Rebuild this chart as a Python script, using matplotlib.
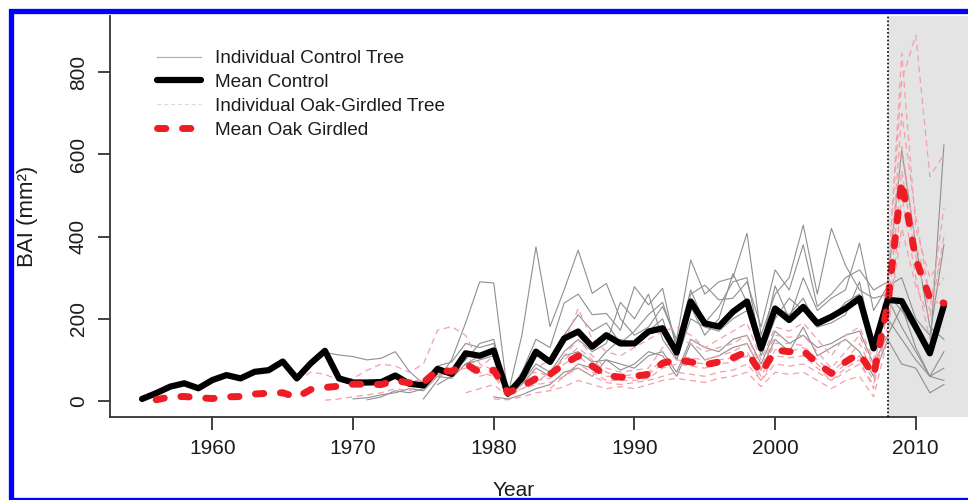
import numpy as np
import matplotlib
matplotlib.use("Agg")
import matplotlib.pyplot as plt
from matplotlib.lines import Line2D
from matplotlib.patches import Rectangle

plt.rcParams['font.family'] = ['Liberation Sans', 'DejaVu Sans']

# ---- data: basal area increment (mm^2) by year ----
mean_control_start = 1955
mean_control = [5, 19, 35, 43, 31,
                51, 63, 55, 71, 75, 96, 55, 92, 122, 55,
                45, 45, 46, 62, 42, 38, 78, 66, 116, 110,
                123, 18, 55, 120, 95, 152, 169, 132, 160, 140,
                140, 169, 177, 118, 242, 189, 181, 217, 242, 128,
                225, 197, 229, 189, 205, 225, 250, 128, 246, 243,
                180, 116, 233]

mean_girdled_start = 1956
mean_girdled = [3, 10, 11, 8,
                6, 10, 11, 17, 19, 20, 9, 28, 33, 36,
                41, 41, 40, 50, 44, 45, 75, 72, 90, 70,
                75, 20, 35, 55, 65, 90, 110, 85, 62, 58,
                60, 65, 92, 100, 95, 88, 95, 105, 120, 67,
                124, 120, 122, 92, 67, 95, 116, 62, 235, 535,
                345, 250, 238]

# individual control trees (first year, values)
ctrl_1_start = 1968
ctrl_1 = [118, 112,
          108, 100, 104, 120, 72, 42, 85, 95, 140, 130,
          140, 20, 70, 150, 130, 238, 260, 210, 213, 172,
          278, 234, 274, 124, 260, 282, 246, 250, 290, 180,
          319, 270, 380, 230, 260, 300, 319, 270, 290, 610,
          380, 180, 150]
ctrl_2_start = 1975
ctrl_2 = [5, 50, 100, 190, 290,
          287, 15, 160, 375, 181, 270, 367, 262, 286, 200,
          160, 180, 230, 150, 343, 260, 290, 300, 408, 160,
          260, 300, 428, 260, 420, 330, 270, 250, 260, 220,
          170, 120, 623]
ctrl_3_start = 1970
ctrl_3 = [5, 8, 15, 20, 30, 25, 60, 55, 90, 100,
          110, 10, 40, 80, 60, 110, 120, 95, 100, 90,
          80, 110, 120, 70, 150, 130, 120, 150, 160, 90,
          170, 140, 160, 130, 140, 160, 170, 90, 160, 230,
          130, 60, 80]
ctrl_4_start = 1971
ctrl_4 = [3, 10, 25, 20, 30, 65, 70, 100, 140,
          150, 20, 45, 90, 70, 120, 150, 120, 140, 240,
          200, 260, 150, 100, 230, 160, 200, 310, 240, 110,
          200, 250, 220, 180, 190, 210, 290, 130, 250, 180,
          120, 60, 120]
ctrl_5_start = 1980
ctrl_5 = [10, 5, 15, 30, 40, 70, 80, 60, 100, 75,
          90, 120, 110, 60, 140, 100, 110, 130, 140, 75,
          150, 120, 180, 110, 130, 150, 120, 60, 150, 90,
          80, 20, 40]
ctrl_6_start = 1976
ctrl_6 = [40, 60, 90, 110,
          120, 15, 50, 110, 100, 160, 210, 170, 190, 140,
          170, 210, 240, 140, 270, 190, 230, 290, 300, 130,
          280, 200, 300, 220, 250, 270, 384, 220, 280, 300,
          200, 160, 380]
ctrl_7_start = 1985
ctrl_7 = [60, 90, 80, 120, 150,
          140, 170, 200, 100, 200, 180, 170, 200, 220, 120,
          230, 210, 250, 180, 200, 240, 260, 140, 200, 150,
          100, 60, 50]

# individual oak-girdled trees (first year, values)
gird_1_start = 1966
gird_1 = [50, 70, 65, 50,
          55, 75, 90, 85, 70, 90, 172, 181, 160, 90,
          75, 25, 50, 80, 100, 140, 225, 150, 120, 110,
          130, 150, 170, 180, 160, 130, 150, 170, 190, 100,
          180, 170, 190, 150, 110, 160, 180, 100, 300, 780,
          890, 546, 600]
gird_2_start = 1968
gird_2 = [2, 5,
          10, 15, 20, 30, 25, 40, 80, 60, 90, 70,
          60, 15, 30, 40, 45, 60, 80, 60, 45, 40,
          45, 50, 60, 70, 65, 60, 70, 75, 90, 50,
          90, 85, 90, 70, 50, 70, 90, 40, 180, 420,
          280, 200, 400]
gird_3_start = 1970
gird_3 = [40, 45, 40, 55, 50, 50, 60, 75, 110, 80,
          110, 30, 60, 70, 60, 110, 150, 110, 80, 70,
          75, 80, 130, 150, 140, 120, 130, 140, 160, 80,
          160, 155, 160, 120, 80, 120, 160, 80, 260, 620,
          380, 260, 220]
gird_4_start = 1975
gird_4 = [30, 60, 70, 80, 60,
          70, 15, 40, 50, 55, 90, 110, 80, 60, 60,
          55, 65, 90, 100, 95, 90, 100, 105, 120, 60,
          125, 120, 130, 90, 60, 90, 110, 50, 240, 700,
          450, 250, 300]
gird_5_start = 1980
gird_5 = [5, 3, 10, 20, 25, 35, 50, 40, 30, 35,
          30, 40, 50, 55, 50, 45, 55, 60, 70, 35,
          70, 65, 70, 50, 30, 50, 60, 10, 150, 500,
          300, 150, 180]
gird_6_start = 1978
gird_6 = [20, 30,
          40, 10, 30, 45, 70, 100, 130, 100, 70, 60,
          65, 70, 100, 110, 105, 100, 110, 120, 140, 75,
          140, 140, 135, 100, 70, 100, 140, 70, 280, 846,
          420, 300, 350]
gird_7_start = 1984
gird_7 = [30, 60, 90, 70, 50, 50,
          50, 55, 80, 90, 85, 80, 90, 95, 110, 50,
          110, 105, 110, 80, 50, 80, 100, 30, 220, 560,
          350, 220, 470]

girdling_year = 2008
x_ticks = [1960, 1970, 1980, 1990, 2000, 2010]
y_ticks = [0, 200, 400, 600, 800]

control_trees = [(ctrl_1_start, ctrl_1), (ctrl_2_start, ctrl_2),
                 (ctrl_3_start, ctrl_3), (ctrl_4_start, ctrl_4),
                 (ctrl_5_start, ctrl_5), (ctrl_6_start, ctrl_6),
                 (ctrl_7_start, ctrl_7)]
girdled_trees = [(gird_1_start, gird_1), (gird_2_start, gird_2),
                 (gird_3_start, gird_3), (gird_4_start, gird_4),
                 (gird_5_start, gird_5), (gird_6_start, gird_6),
                 (gird_7_start, gird_7)]


def yrs(start, vals):
    return np.arange(start, start + len(vals))


# ---- figure ----
W, H = 968, 500
fig = plt.figure(figsize=(W / 100, H / 100), dpi=100)
ax = fig.add_axes([110 / W, 1 - 416.7 / H, (976 - 110) / W, (416.7 - 16) / H])
ax.set_xlim(1952.72, 2014.28)
ax.set_ylim(-38.2, 936.7)

txt = '#1c1c1c'
axcol = '#333333'

# post-girdling period
ax.axvspan(girdling_year, 2020, color='#e4e4e4', zorder=0, lw=0)
ax.axvline(girdling_year, color='black', lw=1.2, ls=(0, (1, 1.3)), zorder=5)

for start, vals in control_trees:
    ax.plot(yrs(start, vals), vals, color='#8f8f8f', lw=0.8, zorder=2)
for start, vals in girdled_trees:
    ax.plot(yrs(start, vals), vals, color='#f2a0aa', lw=0.9,
            dashes=(5.0, 3.5), zorder=2)

ax.plot(yrs(mean_control_start, mean_control), mean_control, color='black',
        lw=4.5, solid_joinstyle='round', solid_capstyle='round', zorder=4)
ax.plot(yrs(mean_girdled_start, mean_girdled), mean_girdled, color='#ee1c25',
        lw=5.0, dashes=(1.2, 2.4), dash_capstyle='round',
        dash_joinstyle='round', zorder=4)

# axes styling (R-like)
for s in ['top', 'right']:
    ax.spines[s].set_visible(False)
ax.spines['left'].set_color(axcol)
ax.spines['bottom'].set_color(axcol)
ax.spines['left'].set_linewidth(1.3)
ax.spines['bottom'].set_linewidth(1.3)
ax.spines['bottom'].set_bounds(1952.72, 2010)
ax.set_xticks(x_ticks)
ax.set_yticks(y_ticks)
ax.tick_params(axis='both', length=9, width=1.3, color=axcol,
               labelsize=15, labelcolor=txt, pad=7)
for lab in ax.get_yticklabels():
    lab.set_rotation(90)
    lab.set_va('center')
ax.patch.set_alpha(0)

fig.text(514 / W, 1 - 490 / H, 'Year', fontsize=15, color=txt,
         ha='center', va='center')
fig.text(28 / W, 1 - 216 / H, 'BAI (mm²)', rotation=90, fontsize=16,
         color=txt, ha='center', va='center')

handles = [
    Line2D([], [], color='#b0b0b0', lw=0.9),
    Line2D([], [], color='black', lw=4.5, solid_capstyle='round'),
    Line2D([], [], color='#d8d8d8', lw=0.9, dashes=(3, 2.5)),
    Line2D([], [], color='#ee1c25', lw=5.0, dashes=(1.2, 2.4),
           dash_capstyle='round'),
]
labels = ['Individual Control Tree', 'Mean Control',
          'Individual Oak-Girdled Tree', 'Mean Oak Girdled']
leg = fig.legend(handles, labels, loc='upper left',
                 bbox_to_anchor=(157 / W, 1 - 50 / H), frameon=False,
                 fontsize=13.7, handlelength=2.3, handletextpad=0.75,
                 labelspacing=0.34, borderpad=0, borderaxespad=0)
for t in leg.get_texts():
    t.set_color(txt)

# blue frame
fig.patches.append(Rectangle((10.5 / W, -0.3 / H), 2, (500.3 - 10.5) / H,
                             transform=fig.transFigure, fill=False,
                             edgecolor='#0000ff', lw=3.8, zorder=10))

fig.savefig('out.png', dpi=100)
